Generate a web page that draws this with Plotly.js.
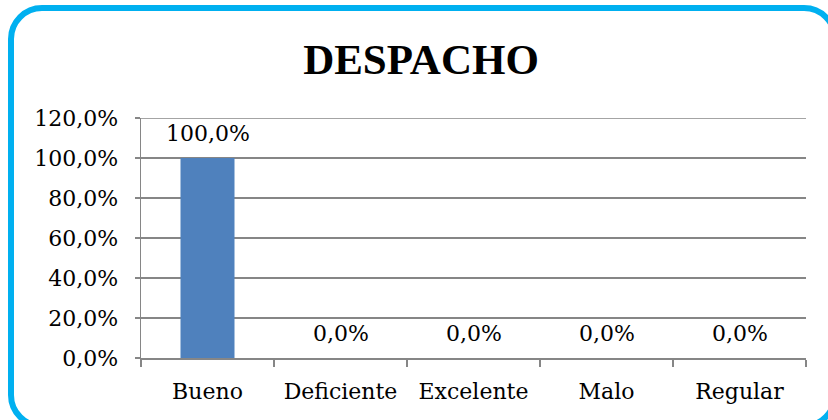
<!DOCTYPE html>
<html>
<head>
<meta charset="utf-8">
<script src="https://cdn.plot.ly/plotly-3.0.1.min.js"></script>
<style>
  html, body { margin: 0; padding: 0; background: #ffffff; overflow: hidden; }
  #wrap { position: relative; width: 828px; height: 420px; }
  #frame { position: absolute; left: 8px; top: 5px; width: 830px; height: 424px;
           box-sizing: border-box; border: 6px solid #00b0f0; border-radius: 34px; pointer-events: none; z-index: 2; }
  #chart { position: absolute; left: 0; top: 0; width: 828px; height: 420px; }
</style>
</head>
<body>
<div id="wrap">
  <div id="chart"></div>
  <div id="frame"></div>
</div>
<script>
const categories = ["Bueno", "Deficiente", "Excelente", "Malo", "Regular"];
const values = [1.0, 0.0, 0.0, 0.0, 0.0];
const yTickVals = [0, 0.2, 0.4, 0.6, 0.8, 1.0, 1.2];
const yTickText = ["0,0%", "20,0%", "40,0%", "60,0%", "80,0%", "100,0%", "120,0%"];
const chartTitle = "DESPACHO";

const fmt = v => (v * 100).toFixed(1).replace(".", ",") + "%";

const serif = "DejaVu Serif, serif";
const gridColor = "#868686";

const trace = {
  type: "bar",
  x: categories,
  y: values,
  marker: { color: "#4f81bd", line: { width: 0 } },
  hoverinfo: "none"
};

const labels = categories.map((c, i) => ({
  x: c,
  y: values[i],
  xref: "x",
  yref: "y",
  text: fmt(values[i]),
  showarrow: false,
  xanchor: "center",
  yanchor: "bottom",
  yshift: 10,
  font: { family: serif, size: 22, color: "#000000" }
}));

const yMax = yTickVals[yTickVals.length - 1];

const layout = {
  width: 828,
  height: 420,
  margin: { l: 141, r: 22, t: 118, b: 62, pad: 0 },
  paper_bgcolor: "rgba(0,0,0,0)",
  plot_bgcolor: "rgba(0,0,0,0)",
  bargap: 0.594,
  showlegend: false,
  annotations: labels,
  shapes: [{
    type: "line", xref: "paper", yref: "y",
    x0: 0, x1: 1, y0: yMax, y1: yMax,
    line: { color: gridColor, width: 1.5 },
    layer: "below"
  }],
  title: {
    text: "<b>" + chartTitle + "</b>",
    font: { family: "Liberation Serif, serif", size: 43, color: "#000000" },
    x: 421 / 828,
    xanchor: "center",
    xref: "container",
    y: 1 - 59 / 420,
    yanchor: "middle",
    yref: "container"
  },
  xaxis: {
    type: "category",
    tickson: "boundaries",
    ticks: "outside",
    ticklen: 7,
    tickwidth: 1.5,
    tickcolor: gridColor,
    showline: true,
    linecolor: gridColor,
    linewidth: 1.5,
    showgrid: false,
    zeroline: false,
    tickfont: { family: serif, size: 22, color: "#000000" },
    ticklabelstandoff: 13,
    fixedrange: true
  },
  yaxis: {
    range: [0, yMax],
    tickvals: yTickVals,
    ticktext: yTickText,
    ticks: "outside",
    ticklen: 5,
    tickwidth: 1.5,
    tickcolor: gridColor,
    showline: true,
    linecolor: gridColor,
    linewidth: 1.5,
    showgrid: true,
    gridcolor: gridColor,
    gridwidth: 1.5,
    zeroline: false,
    tickfont: { family: serif, size: 22, color: "#000000" },
    ticklabelstandoff: 12,
    fixedrange: true
  }
};

Plotly.newPlot("chart", [trace], layout, { displayModeBar: false, staticPlot: true });
</script>
</body>
</html>
